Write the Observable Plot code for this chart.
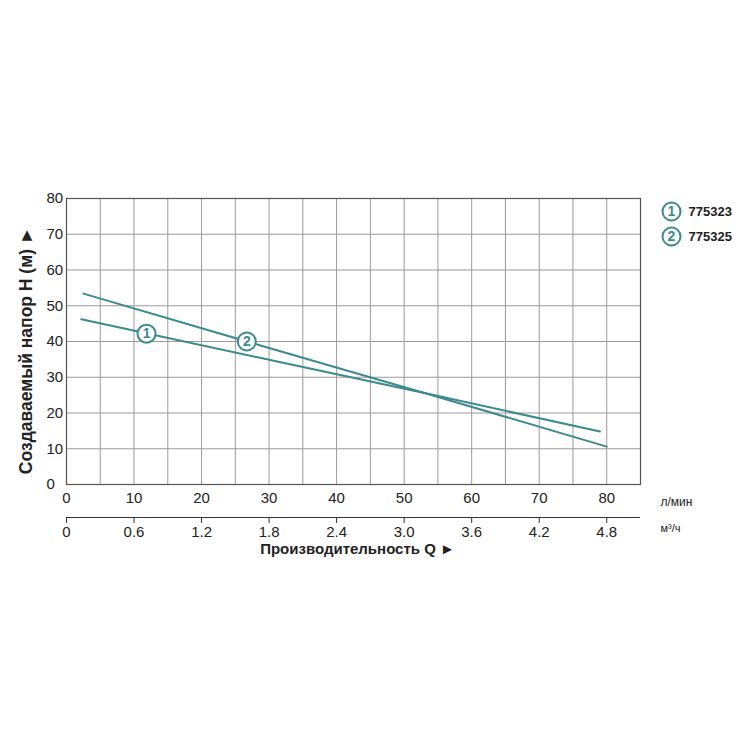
<!DOCTYPE html>
<html>
<head>
<meta charset="utf-8">
<script src="https://cdn.jsdelivr.net/npm/d3@7"></script>
<script src="https://cdn.jsdelivr.net/npm/@observablehq/plot@0.6"></script>
<style>
  html, body { margin: 0; padding: 0; background: #fff; }
  #chart { width: 750px; height: 750px; }
</style>
</head>
<body>
<div id="chart"></div>
<script>
// ---- data ----
const series1Q = [2.2, 30, 53, 79];
const series1H = [46.2, 34.9, 25.6, 14.8];
const series2Q = [2.5, 30, 53, 80];
const series2H = [53.4, 38.2, 25.6, 10.6];
const seriesNames = ["775323", "775325"];
const seriesIds = ["1", "2"];
const markerQ = [11.85, 26.7];
const markerH = [42.2, 40.0];
const flowLpmTicks = [0, 10, 20, 30, 40, 50, 60, 70, 80];
const flowM3hLabels = ["0", "0.6", "1.2", "1.8", "2.4", "3.0", "3.6", "4.2", "4.8"];
const headTicks = [0, 10, 20, 30, 40, 50, 60, 70, 80];
const gridQ = d3.range(0, 86, 5);
const yLabel = "Создаваемый напор H (м) ►";
const xLabel = "Производительность Q ►";
const unitLpm = "л/мин";
const unitM3h = "м³/ч";

const lines = [
  ...series1Q.map((q, i) => ({series: seriesIds[0], q, h: series1H[i]})),
  ...series2Q.map((q, i) => ({series: seriesIds[1], q, h: series2H[i]}))
];
const markers = seriesIds.map((id, i) => ({id, q: markerQ[i], h: markerH[i]}));

const teal = "#3c8a8f";
const font = "'Liberation Sans', Arial, sans-serif";

// legend marks: one dot + number + name per series, anchored at the frame's top-right corner
const legendMarks = seriesIds.flatMap((id, i) => [
  Plot.dot([id], {frameAnchor: "top-right", dx: 31, dy: 13 + 25 * i, r: 9, fill: "#fff", stroke: teal, strokeWidth: 2}),
  Plot.text([id], {frameAnchor: "top-right", dx: 31, dy: 13 + 25 * i, textAnchor: "middle", lineAnchor: "middle", fill: teal, fontSize: 14, fontWeight: "bold"}),
  Plot.text([seriesNames[i]], {frameAnchor: "top-right", dx: 48, dy: 13 + 25 * i, textAnchor: "start", lineAnchor: "middle", fill: "#222", fontSize: 13, fontWeight: "bold"})
]);

const chart = Plot.plot({
  width: 750,
  height: 750,
  marginLeft: 66,
  marginRight: 110,
  marginTop: 198,
  marginBottom: 266,
  style: {fontFamily: font, fontSize: "14px", color: "#222", background: "#fff"},
  x: {domain: [0, 85]},
  y: {domain: [0, 80]},
  marks: [
    Plot.gridX(gridQ, {stroke: "#9a9a9a", strokeOpacity: 1, strokeWidth: 1}),
    Plot.gridY(headTicks, {stroke: "#9a9a9a", strokeOpacity: 1, strokeWidth: 1}),
    Plot.frame({stroke: "#555", strokeWidth: 1.2}),
    Plot.axisY(headTicks, {tickSize: 0, tickPadding: 0, textAnchor: "start", dx: -20, label: null, fontSize: 15}),
    Plot.axisX(flowLpmTicks, {tickSize: 0, tickPadding: 8, label: null, fontSize: 15}),
    // second (m3/h) axis
    Plot.ruleY([0], {x1: 0, x2: 85, dy: 33, stroke: "#333", strokeWidth: 1.2}),
    Plot.axisX(flowLpmTicks, {anchor: "bottom", dy: 33, tickSize: 6, tickPadding: 3, stroke: "#333",
      tickFormat: (d, i) => flowM3hLabels[i], label: null, fontSize: 15}),
    Plot.text([unitLpm], {frameAnchor: "bottom-right", dx: 20, dy: 21, textAnchor: "start", fontSize: 12, fill: "#222"}),
    Plot.text([unitM3h], {frameAnchor: "bottom-right", dx: 20, dy: 47, textAnchor: "start", fontSize: 11, fill: "#222"}),
    Plot.text([xLabel], {frameAnchor: "bottom", dx: 4, dy: 69, textAnchor: "middle", fontSize: 15, fontWeight: "bold", fill: "#222"}),
    Plot.text([yLabel], {frameAnchor: "left", dx: -40, dy: 9, rotate: -90, textAnchor: "middle", fontSize: 17.5, fontWeight: "bold", fill: "#222"}),
    // curves
    Plot.line(lines, {x: "q", y: "h", z: "series", stroke: teal, strokeWidth: 2}),
    Plot.dot(markers, {x: "q", y: "h", r: 9, fill: "#fff", stroke: teal, strokeWidth: 2}),
    Plot.text(markers, {x: "q", y: "h", text: "id", fill: teal, fontSize: 14, fontWeight: "bold"}),
    ...legendMarks
  ]
});
document.getElementById("chart").appendChild(chart);
</script>
</body>
</html>
